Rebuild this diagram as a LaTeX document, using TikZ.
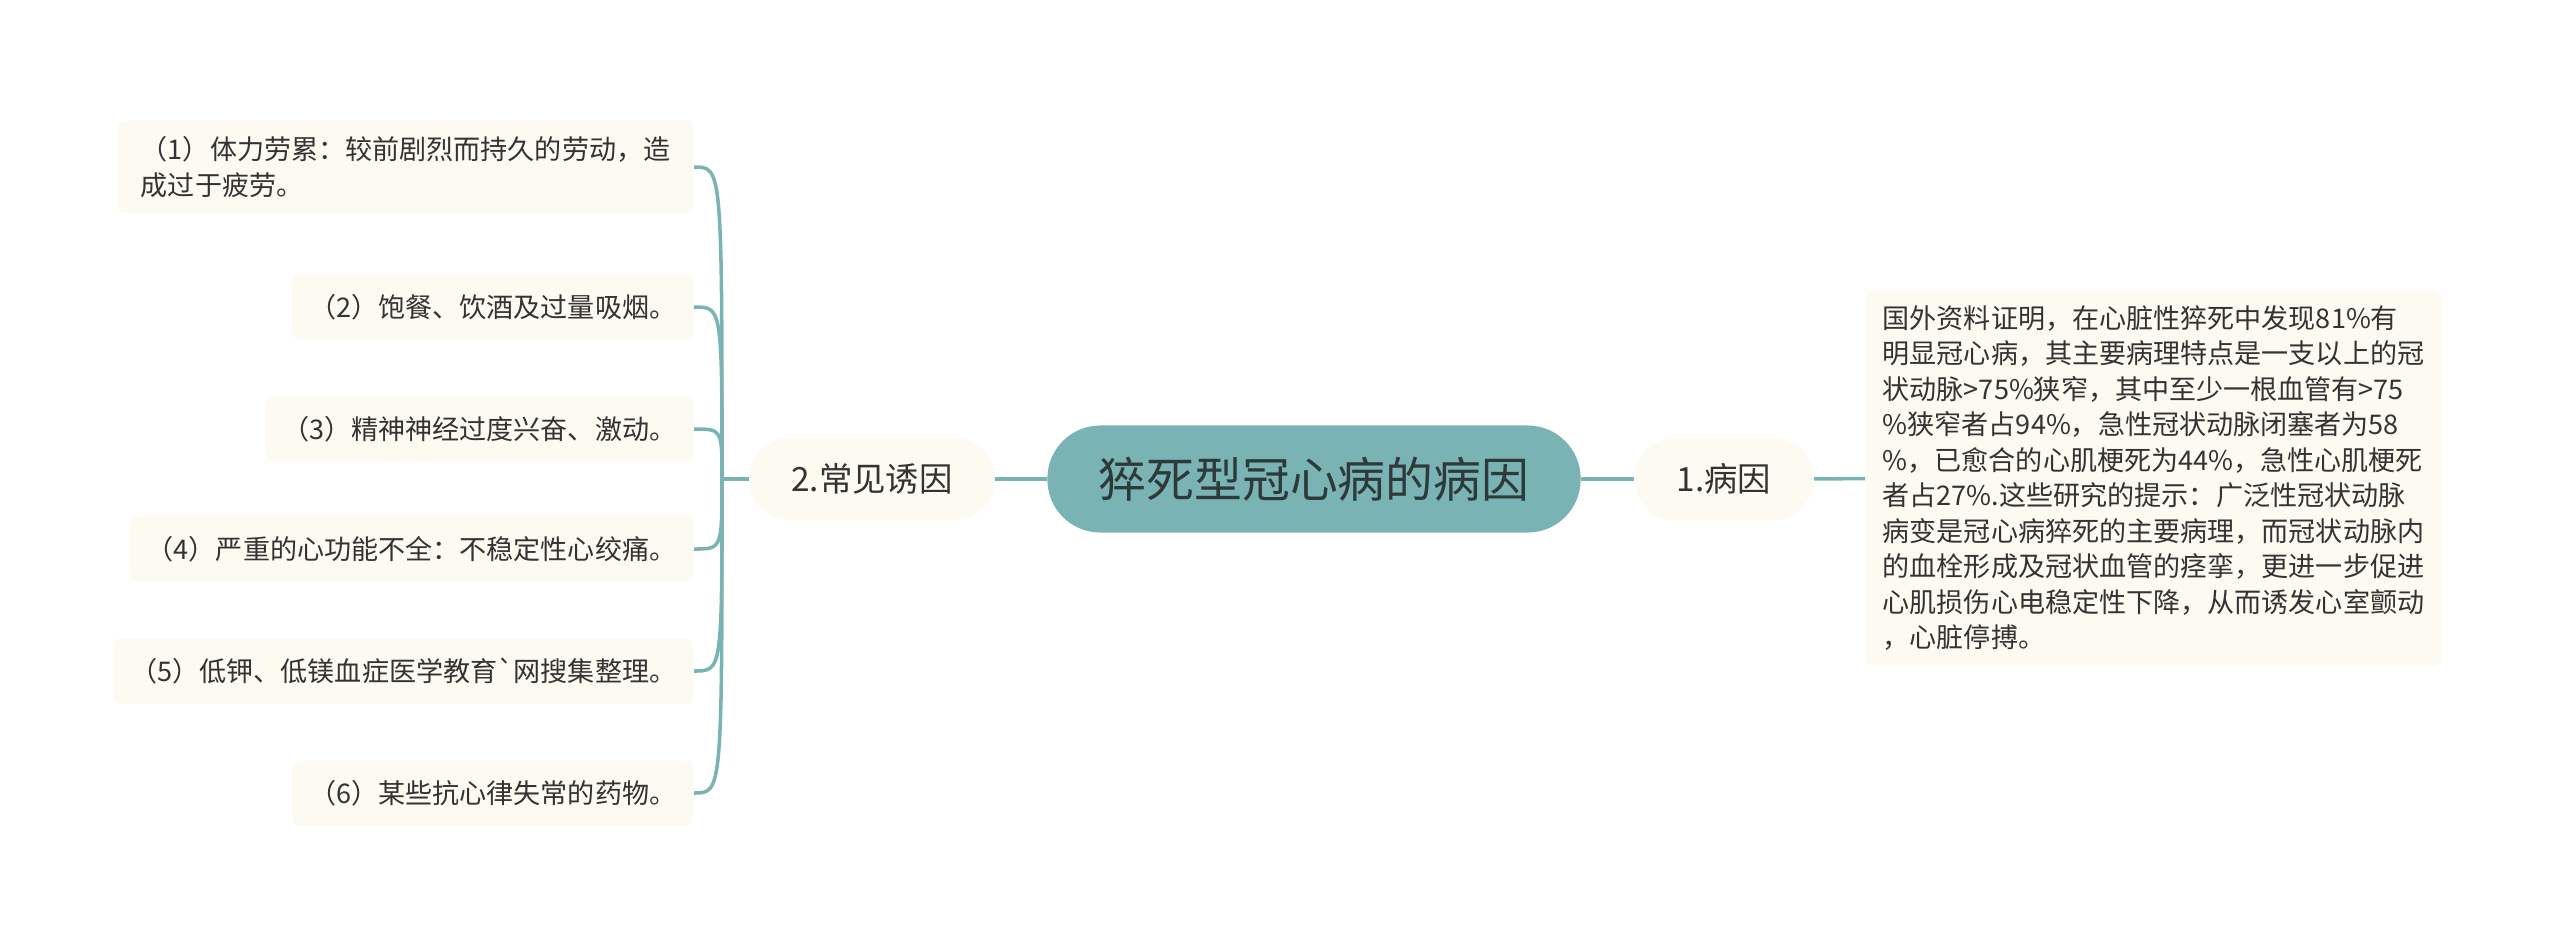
\documentclass[tikz,border=0pt]{standalone}
\usepackage{fontspec}
\newfontfamily\cjk{Noto Sans CJK SC}
\usetikzlibrary{positioning}
\definecolor{mmteal}{HTML}{79B3B4}
\definecolor{mmcream}{HTML}{FCFAF1}
\definecolor{ink}{HTML}{333333}
\definecolor{rootink}{HTML}{2E3A3A}
\tikzset{
  rootbox/.style={fill=mmteal, rounded corners=0.53cm, minimum width=5.33cm, minimum height=1.07cm, inner sep=0pt, text=rootink, font=\cjk\fontsize{13.6}{16}\selectfont},
  midbox/.style={fill=mmcream, rounded corners=0.41cm, minimum height=0.83cm, inner xsep=0.42cm, inner ysep=0pt, text=ink, font=\cjk\fontsize{9.5}{12}\selectfont},
  leaf/.style={fill=mmcream, rounded corners=0.08cm, minimum height=0.65cm, inner xsep=0.17cm, inner ysep=0.16cm, align=left, text=ink, font=\cjk\fontsize{7.7}{10.1}\selectfont},
  link/.style={draw=mmteal, line width=1pt},
}
\begin{document}
\begin{tikzpicture}[x=0.01cm,y=-0.01cm]
\useasboundingbox (0,0) rectangle (2560,941);
\node[rootbox] (root) at (1314,479) {猝死型冠心病的病因};
\node[midbox] (cause) at (1724,479) {1.病因};
\node[midbox] (trig) at (872,479) {2.常见诱因};
\node[leaf, anchor=west, inner ysep=0.15cm] (info) at (1865,478) {国外资料证明，在心脏性猝死中发现81\%有\\明显冠心病，其主要病理特点是一支以上的冠\\状动脉>75\%狭窄，其中至少一根血管有>75\\\%狭窄者占94\%，急性冠状动脉闭塞者为58\\\%，已愈合的心肌梗死为44\%，急性心肌梗死\\者占27\%.这些研究的提示：广泛性冠状动脉\\病变是冠心病猝死的主要病理，而冠状动脉内\\的血栓形成及冠状血管的痉挛，更进一步促进\\心肌损伤心电稳定性下降，从而诱发心室颤动\\，心脏停搏。};
\node[leaf, anchor=east, minimum width=5.75cm] (l1) at (694,167) {（1）体力劳累：较前剧烈而持久的劳动，造\\成过于疲劳。};
\node[leaf, anchor=east] (l2) at (694,307) {（2）饱餐、饮酒及过量吸烟。};
\node[leaf, anchor=east] (l3) at (694,429) {（3）精神神经过度兴奋、激动。};
\node[leaf, anchor=east] (l4) at (694,549) {（4）严重的心功能不全：不稳定性心绞痛。};
\node[leaf, anchor=east] (l5) at (694,671) {（5）低钾、低镁血症医学教育`网搜集整理。};
\node[leaf, anchor=east] (l6) at (694,793) {（6）某些抗心律失常的药物。};
\coordinate (fork) at (722,479);
\draw[link] (root) -- (cause);
\draw[link] (cause) -- (info);
\draw[link] (root) -- (trig);
\draw[link] (trig) -- (fork);
\foreach \n in {l1,l2,l3,l4,l5,l6}
  \draw[link] (fork) .. controls (fork |- \n.east) .. (\n.east);
\end{tikzpicture}
\end{document}
